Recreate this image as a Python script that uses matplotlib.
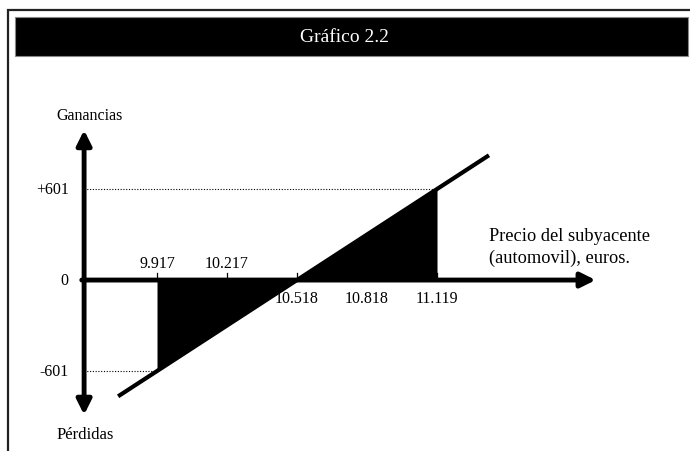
"""Gráfico 2.2: payoff of a futures position on the underlying (car price)."""
import matplotlib
matplotlib.use("Agg")
import matplotlib.pyplot as plt  # noqa: E402
from matplotlib.patches import Rectangle  # noqa: E402

# data
price_ticks = [9.917, 10.217, 10.518, 10.818, 11.119]
tick_labels = ["9.917", "10.217", "10.518", "10.818", "11.119"]
labels_above = [True, True, False, False, False]
breakeven = 10.518
y_levels = [601, 0, -601]
y_labels = ["+601", "0", "-601"]
line_x = [9.75, 11.342]          # ends of the drawn payoff line

plt.rcParams["font.family"] = ["Liberation Serif", "DejaVu Serif"]

W, H = 690, 452
fig = plt.figure(figsize=(W / 100, H / 100), dpi=100)
fig.patch.set_facecolor("white")

# outer frame and black title bar (figure pixels)
def fx(px):
    return px / W


def fy(py):
    return 1 - py / H


fig.patches.append(Rectangle((fx(8), fy(470)), fx(720) - fx(8), fy(11) - fy(470),
                             transform=fig.transFigure, fill=False,
                             edgecolor="#222222", lw=1.6))
fig.patches.append(Rectangle((fx(15), fy(57)), fx(688) - fx(15), fy(18) - fy(57),
                             transform=fig.transFigure, facecolor="black",
                             edgecolor="#888888", lw=0.8))
fig.text(fx(345), fy(38), "Gráfico 2.2", color="white", fontsize=14,
         ha="center", va="center")

# axes whose data scale maps onto the drawing area
ax = fig.add_axes([0, 0, 1, 1])
ax.set_xlim(9.243, 12.205)
ax.set_ylim(-1129, 1856)
ax.axis("off")


def payoff(x):
    return (x - breakeven) * 601 / (price_ticks[-1] - breakeven)


x_lo, x_hi = price_ticks[0], price_ticks[-1]
origin_x = 9.604
x_arrow_end = 11.80
y_arrow_top, y_arrow_bot = 990, -890

# shaded loss / gain triangles
ax.fill_between([x_lo, breakeven], [payoff(x_lo), 0], 0, color="black", lw=0)
ax.fill_between([breakeven, x_hi], [0, payoff(x_hi)], 0, color="black", lw=0)

# payoff line
ax.plot(line_x, [payoff(v) for v in line_x], color="black", lw=3,
        solid_capstyle="butt")

# dotted guides at +601 / -601
ax.plot([origin_x, x_hi], [y_levels[0]] * 2, color="black", lw=0.8,
        ls=(0, (1, 1.5)))
ax.plot([origin_x, x_lo], [y_levels[2]] * 2, color="black", lw=0.8,
        ls=(0, (1, 1.5)))

# axes arrows
arrow = dict(arrowstyle="-|>", lw=3.5, color="black", mutation_scale=22,
             shrinkA=0, shrinkB=0)
ax.annotate("", xy=(x_arrow_end, 0), xytext=(origin_x - 0.01, 0),
            arrowprops=arrow)
ax.annotate("", xy=(origin_x, y_arrow_top), xytext=(origin_x, 0),
            arrowprops=arrow)
ax.annotate("", xy=(origin_x, y_arrow_bot), xytext=(origin_x, 0),
            arrowprops=arrow)

# x ticks and labels
for x, lab, above in zip(price_ticks, tick_labels, labels_above):
    ax.plot([x, x], [0, 45], color="black", lw=0.9)
    ax.annotate(lab, (x, 0), xytext=(0, 12 if above else -13),
                textcoords="offset points", ha="center",
                va="center", fontsize=11.5)

# y labels
for y, lab in zip(y_levels, y_labels):
    ax.annotate(lab, (origin_x, y), xytext=(-11, 0),
                textcoords="offset points", ha="right", va="center",
                fontsize=11.5)

ax.annotate("Ganancias", (origin_x, y_arrow_top), xytext=(4, 5),
            textcoords="offset points", ha="center", va="bottom",
            fontsize=11.5)
ax.annotate("Pérdidas", (origin_x, y_arrow_bot), xytext=(1, -8),
            textcoords="offset points", ha="center", va="top",
            fontsize=12)
ax.annotate("Precio del subyacente\n(automovil), euros.", (x_arrow_end, 0),
            xytext=(-77, 24), textcoords="offset points", ha="left",
            va="center", fontsize=13.2, linespacing=1.35)

fig.savefig("out.png", dpi=100)
